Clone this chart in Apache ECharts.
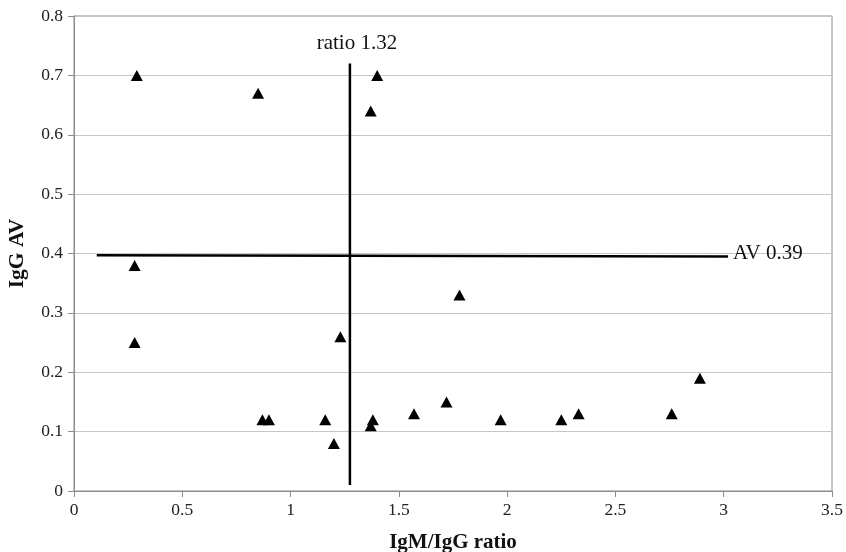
<!DOCTYPE html>
<html>
<head>
<meta charset="utf-8">
<script src="https://cdn.jsdelivr.net/npm/echarts@6/dist/echarts.min.js"></script>
<style>
  html, body { margin: 0; padding: 0; background: #fff; }
  #chart { width: 846px; height: 552px; }
</style>
</head>
<body>
<div id="chart"></div>
<script>
// IgM/IgG ratio (x) vs IgG AV (y)
var ratioValues = [0.29, 0.85, 1.40, 1.37, 0.28, 0.28, 1.23, 1.78, 0.87, 0.90, 1.16, 1.20, 1.37, 1.38, 1.57, 1.72, 1.97, 2.25, 2.33, 2.76, 2.89];
var avValues    = [0.70, 0.67, 0.70, 0.64, 0.38, 0.25, 0.26, 0.33, 0.12, 0.12, 0.12, 0.08, 0.11, 0.12, 0.13, 0.15, 0.12, 0.12, 0.13, 0.13, 0.19];

// cutoff lines as drawn in the figure
var ratioCutX = [1.274, 1.274];
var ratioCutY = [0.01, 0.72];
var avCutX = [0.105, 3.02];
var avCutY = [0.397, 0.395];

var xTicks = ['0', '0.5', '1', '1.5', '2', '2.5', '3', '3.5'];
var yTicks = ['0', '0.1', '0.2', '0.3', '0.4', '0.5', '0.6', '0.7', '0.8'];

var font = 'Liberation Serif';

function zip(a, b) {
  return a.map(function (v, i) { return [v, b[i]]; });
}

var chart = echarts.init(document.getElementById('chart'), null, { renderer: 'canvas' });

chart.setOption({
  animation: false,
  backgroundColor: '#fff',
  textStyle: { fontFamily: font },
  grid: {
    left: 74, top: 16, right: 14, bottom: 61,
    outerBoundsMode: 'none',
    containLabel: false,
    show: true, borderColor: '#8c8c8c', borderWidth: 1
  },
  xAxis: {
    type: 'value',
    min: 0, max: 3.5, interval: 0.5,
    name: 'IgM/IgG ratio',
    nameLocation: 'middle',
    nameGap: 41,
    nameTextStyle: { fontFamily: font, fontSize: 21, fontWeight: 'bold', color: '#111' },
    axisLine: { show: true, lineStyle: { color: '#8c8c8c' } },
    axisTick: { show: true, length: 6, lineStyle: { color: '#8c8c8c' } },
    axisLabel: {
      margin: 10, fontFamily: font, fontSize: 17.5, color: '#222',
      formatter: function (v) { return xTicks[Math.round(v / 0.5)]; }
    },
    splitLine: { show: false }
  },
  yAxis: {
    type: 'value',
    min: 0, max: 0.8, interval: 0.1,
    name: 'IgG AV',
    nameLocation: 'middle',
    nameGap: 46,
    nameTextStyle: { fontFamily: font, fontSize: 21.5, fontWeight: 'bold', color: '#111' },
    axisLine: { show: true, lineStyle: { color: '#8c8c8c' } },
    axisTick: { show: true, length: 6, lineStyle: { color: '#8c8c8c' } },
    axisLabel: {
      margin: 11, fontFamily: font, fontSize: 17.5, color: '#222',
      formatter: function (v) { return yTicks[Math.round(v / 0.1)]; }
    },
    splitLine: { show: true, lineStyle: { color: '#c6c6c6', width: 1 } }
  },
  series: [
    {
      type: 'line',
      data: zip(ratioCutX, ratioCutY),
      symbol: 'none',
      lineStyle: { color: '#000', width: 2.5 },
      endLabel: {
        show: true,
        formatter: 'ratio 1.32',
        fontFamily: font, fontSize: 21, color: '#111',
        align: 'center', verticalAlign: 'bottom',
        offset: [-1, -10]
      },
      z: 3
    },
    {
      type: 'line',
      data: zip(avCutX, avCutY),
      symbol: 'none',
      lineStyle: { color: '#000', width: 2.5 },
      endLabel: {
        show: true,
        formatter: 'AV 0.39',
        fontFamily: font, fontSize: 21, color: '#111',
        distance: 5,
        offset: [0, -3]
      },
      z: 3
    },
    {
      type: 'scatter',
      data: zip(ratioValues, avValues),
      symbol: 'triangle',
      symbolSize: [12, 11],
      itemStyle: { color: '#000', opacity: 1 },
      z: 4
    }
  ]
});
</script>
</body>
</html>
